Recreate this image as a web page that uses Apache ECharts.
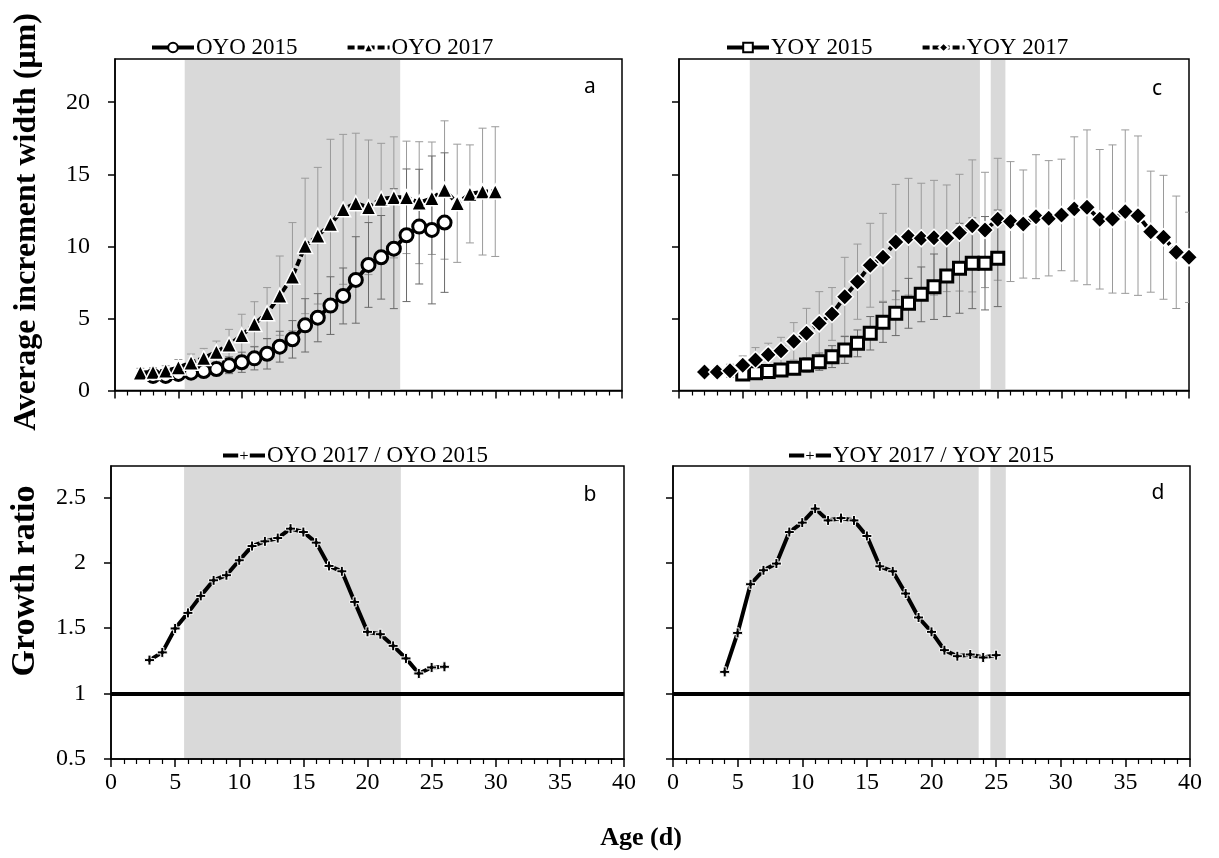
<!DOCTYPE html>
<html>
<head>
<meta charset="utf-8">
<script src="https://cdn.jsdelivr.net/npm/echarts@6/dist/echarts.min.js"></script>
<style>
  html, body { margin: 0; padding: 0; background: #fff; }
  #chart { width: 1219px; height: 858px; }
</style>
</head>
<body>
<div id="chart"></div>
<script>
// age (d) of each point
const ageOyo2015 = [3,4,5,6,7,8,9,10,11,12,13,14,15,16,17,18,19,20,21,22,23,24,25,26];
const ageOyo2017 = [2,3,4,5,6,7,8,9,10,11,12,13,14,15,16,17,18,19,20,21,22,23,24,25,26,27,28,29,30];
const ageYoy2015 = [5,6,7,8,9,10,11,12,13,14,15,16,17,18,19,20,21,22,23,24,25];
const ageYoy2017 = [2,3,4,5,6,7,8,9,10,11,12,13,14,15,16,17,18,19,20,21,22,23,24,25,26,27,28,29,30,31,32,33,34,35,36,37,38,39,40];
const ageRatioOyo = [3,4,5,6,7,8,9,10,11,12,13,14,15,16,17,18,19,20,21,22,23,24,25,26];
const ageRatioYoy = [4,5,6,7,8,9,10,11,12,13,14,15,16,17,18,19,20,21,22,23,24,25];

// average increment width (um) and SD
const oyo2015 = [1.01,1.01,1.15,1.24,1.35,1.49,1.75,1.96,2.23,2.55,3.04,3.55,4.52,5.05,5.89,6.56,7.67,8.71,9.24,9.84,10.77,11.37,11.14,11.65];
const oyo2015Sd = [0.2,0.25,0.3,0.35,0.4,0.46,0.58,0.7,0.8,1.06,1.07,1.3,1.85,1.67,2.0,1.94,3.0,2.94,2.9,4.16,4.6,3.98,5.13,4.84];
const oyo2017 = [1.24,1.28,1.37,1.6,1.93,2.25,2.67,3.18,3.83,4.61,5.36,6.58,7.9,10.03,10.74,11.55,12.57,12.99,12.71,13.29,13.4,13.4,13.03,13.34,13.91,12.99,13.64,13.8,13.8];
const oyo2017Sd = [0.3,0.3,0.35,0.55,0.6,0.67,0.76,1.06,1.46,1.55,1.78,2.75,3.75,4.7,4.74,5.88,5.2,4.86,4.67,3.86,4.2,3.9,4.23,3.9,4.8,4.1,3.4,4.4,4.5];
const yoy2015 = [1.14,1.24,1.31,1.42,1.54,1.77,2.0,2.35,2.81,3.27,3.97,4.73,5.36,6.05,6.67,7.2,7.95,8.48,8.83,8.83,9.17];
const yoy2015Sd = [0.2,0.25,0.3,0.4,0.45,0.5,0.6,0.76,0.93,0.93,1.16,1.39,1.55,1.73,1.9,2.27,2.82,3.12,3.15,3.24,3.35];
const yoy2017 = [1.28,1.28,1.37,1.75,2.12,2.49,2.76,3.41,3.97,4.66,5.31,6.51,7.55,8.69,9.24,10.3,10.67,10.56,10.6,10.56,10.95,11.42,11.14,11.88,11.72,11.55,12.06,11.95,12.18,12.6,12.71,11.88,11.9,12.41,12.13,11.02,10.63,9.59,9.24];
const yoy2017Sd = [0.3,0.35,0.45,0.65,0.86,0.79,0.93,1.3,1.73,2.2,1.83,2.73,2.61,2.91,3.05,4.0,4.05,3.82,3.98,3.7,4.05,4.58,4.0,4.23,4.16,3.75,4.3,4.0,3.87,5.0,5.37,4.84,5.14,5.67,5.53,4.2,4.3,3.9,3.13];

// growth ratio 2017 / 2015
const ratioOyo = [1.256,1.315,1.498,1.617,1.747,1.866,1.905,2.019,2.128,2.164,2.189,2.261,2.235,2.154,1.976,1.935,1.701,1.472,1.454,1.365,1.269,1.154,1.2,1.205];
const ratioYoy = [1.166,1.464,1.836,1.943,1.994,2.235,2.307,2.414,2.324,2.342,2.324,2.205,1.973,1.935,1.765,1.582,1.472,1.332,1.286,1.299,1.276,1.294];

// shaded age ranges
const bandsA = [[5.5, 22.5]];
const bandsB = [[5.7, 22.6]];
const bandsC = [[5.55, 23.6], [24.45, 25.6]];
const bandsD = [[5.9, 23.65], [24.55, 25.75]];

const widthTicks = [0, 5, 10, 15, 20];
const ratioTicks = [0.5, 1, 1.5, 2, 2.5];

const serif = '"Liberation Serif", "Times New Roman", serif';
const plusPath = 'path://M3.5,0H6.5V3.5H10V6.5H6.5V10H3.5V6.5H0V3.5H3.5Z';

const chart = echarts.init(document.getElementById('chart'));

function pairs(xs, ys) { return xs.map((x, i) => [x, ys[i]]); }
function bars(xs, ys, sd) { return xs.map((x, i) => [x, ys[i] - sd[i], ys[i] + sd[i]]); }

// grey shading behind the curves
function bandSeries(idx, bands) {
  return {
    type: 'custom', xAxisIndex: idx, yAxisIndex: idx, z: 1, silent: true,
    data: bands,
    encode: { x: [0, 1] },
    renderItem: function (params, api) {
      const cs = params.coordSys;
      const a = api.coord([api.value(0), 0])[0];
      const b = api.coord([api.value(1), 0])[0];
      return { type: 'rect', shape: { x: a, y: cs.y + 1, width: b - a, height: cs.height - 2 }, style: { fill: '#d9d9d9' } };
    }
  };
}

// mean +- SD whiskers
function errSeries(idx, data, color) {
  return {
    type: 'custom', xAxisIndex: idx, yAxisIndex: idx, z: 2, silent: true, clip: true,
    data: data,
    encode: { x: 0, y: [1, 2] },
    renderItem: function (params, api) {
      const top = api.coord([api.value(0), api.value(2)]);
      const bot = api.coord([api.value(0), api.value(1)]);
      const st = { stroke: color, lineWidth: 1 };
      return {
        type: 'group', children: [
          { type: 'line', shape: { x1: top[0], y1: top[1], x2: bot[0], y2: bot[1] }, style: st },
          { type: 'line', shape: { x1: top[0] - 4, y1: top[1], x2: top[0] + 4, y2: top[1] }, style: st },
          { type: 'line', shape: { x1: bot[0] - 4, y1: bot[1], x2: bot[0] + 4, y2: bot[1] }, style: st }
        ]
      };
    }
  };
}

function lineSeries(idx, name, data, sym, size, fill, border, bw, dashed) {
  return {
    type: 'line', name: name, xAxisIndex: idx, yAxisIndex: idx, z: 3,
    data: data, symbol: sym, symbolSize: size, showSymbol: true, showAllSymbol: true,
    itemStyle: { color: fill, borderColor: border, borderWidth: bw },
    lineStyle: { color: '#000', width: 4, type: dashed ? [7, 3] : 'solid' },
    emphasis: { disabled: true }, animation: false
  };
}

function xAx(idx, showLabel) {
  return {
    type: 'value', gridIndex: idx, min: 0, max: 40, interval: 5,
    axisLine: { show: true, onZero: false, lineStyle: { color: '#000', width: 1.5 } },
    axisTick: { show: true, length: 8, lineStyle: { color: '#000', width: 1.5 } },
    minorTick: { show: true, splitNumber: 5, length: 5, lineStyle: { color: '#000', width: 1.2 } },
    axisLabel: { show: showLabel, margin: 12, fontFamily: serif, fontSize: 24, color: '#000' },
    splitLine: { show: false }, minorSplitLine: { show: false }
  };
}

function yAx(idx, min, max, vals, showLabel) {
  return {
    type: 'value', gridIndex: idx, min: min, max: max,
    axisLine: { show: true, onZero: false, lineStyle: { color: '#000', width: 1.5 } },
    axisTick: { show: true, length: 7, customValues: vals, lineStyle: { color: '#000', width: 1.5 } },
    axisLabel: { show: showLabel, customValues: vals, margin: 25, fontFamily: serif, fontSize: 24, color: '#000' },
    splitLine: { show: false }
  };
}

// reference line at ratio = 1
const oneLine = {
  silent: true, symbol: 'none', label: { show: false },
  lineStyle: { color: '#000', width: 4, type: 'solid' },
  data: [{ yAxis: 1 }]
};

const gridStyle = { show: true, borderColor: '#000', borderWidth: 1.5, containLabel: false };
const legendBase = {
  itemWidth: 42, itemHeight: 12, itemGap: 48,
  lineStyle: { width: 4 },
  textStyle: { fontFamily: serif, fontSize: 23, color: '#000', padding: [0, 0, 0, -3] },
  selectedMode: false
};

const option = {
  animation: false,
  grid: [
    Object.assign({ left: 115, top: 59, width: 507, height: 331.5 }, gridStyle),
    Object.assign({ left: 111, top: 466, width: 513, height: 293 }, gridStyle),
    Object.assign({ left: 679, top: 59, width: 510, height: 331.5 }, gridStyle),
    Object.assign({ left: 673, top: 466, width: 517, height: 293 }, gridStyle)
  ],
  xAxis: [xAx(0, false), xAx(1, true), xAx(2, false), xAx(3, true)],
  yAxis: [
    yAx(0, 0, 23, widthTicks, true),
    yAx(1, 0.5, 2.74, ratioTicks, true),
    yAx(2, 0, 23, widthTicks, false),
    yAx(3, 0.5, 2.74, ratioTicks, false)
  ],
  legend: [
    Object.assign({ data: ['OYO 2015', 'OYO 2017'], left: 145, top: 31 }, legendBase),
    Object.assign({ data: ['OYO 2017 / OYO 2015'], left: 216, top: 439 }, legendBase),
    Object.assign({ data: ['YOY 2015', 'YOY 2017'], left: 720, top: 31 }, legendBase),
    Object.assign({ data: ['YOY 2017 / YOY 2015'], left: 782, top: 439 }, legendBase)
  ],
  graphic: [
    { type: 'text', x: 590, y: 87, style: { text: 'a', font: '21px "Noto Sans"', fill: '#000', align: 'center', verticalAlign: 'middle' } },
    { type: 'text', x: 590, y: 495, style: { text: 'b', font: '21px "Noto Sans"', fill: '#000', align: 'center', verticalAlign: 'middle' } },
    { type: 'text', x: 1157, y: 89, style: { text: 'c', font: '21px "Noto Sans"', fill: '#000', align: 'center', verticalAlign: 'middle' } },
    { type: 'text', x: 1158, y: 493, style: { text: 'd', font: '21px "Noto Sans"', fill: '#000', align: 'center', verticalAlign: 'middle' } },
    { type: 'text', x: 27, y: 222, rotation: Math.PI / 2, style: { text: 'Average increment width (μm)', font: 'bold 32px "Liberation Serif"', fill: '#000', align: 'center', verticalAlign: 'middle' } },
    { type: 'text', x: 25, y: 581, rotation: Math.PI / 2, style: { text: 'Growth ratio', font: 'bold 34px "Liberation Serif"', fill: '#000', align: 'center', verticalAlign: 'middle' } },
    { type: 'text', x: 641, y: 838, style: { text: 'Age (d)', font: 'bold 26px "Liberation Serif"', fill: '#000', align: 'center', verticalAlign: 'middle' } }
  ],
  series: [
    bandSeries(0, bandsA),
    bandSeries(1, bandsB),
    bandSeries(2, bandsC),
    bandSeries(3, bandsD),
    errSeries(0, bars(ageOyo2017, oyo2017, oyo2017Sd), '#9a9a9a'),
    errSeries(0, bars(ageOyo2015, oyo2015, oyo2015Sd), '#6a6a6a'),
    errSeries(2, bars(ageYoy2017, yoy2017, yoy2017Sd), '#9a9a9a'),
    errSeries(2, bars(ageYoy2015, yoy2015, yoy2015Sd), '#6a6a6a'),
    lineSeries(0, 'OYO 2015', pairs(ageOyo2015, oyo2015), 'circle', 13, '#fff', '#000', 3, false),
    lineSeries(0, 'OYO 2017', pairs(ageOyo2017, oyo2017), 'triangle', 15, '#000', '#fff', 1.5, true),
    lineSeries(2, 'YOY 2015', pairs(ageYoy2015, yoy2015), 'rect', 12, '#fff', '#000', 3, false),
    lineSeries(2, 'YOY 2017', pairs(ageYoy2017, yoy2017), 'diamond', 17, '#000', '#fff', 1.5, true),
    Object.assign(lineSeries(1, 'OYO 2017 / OYO 2015', pairs(ageRatioOyo, ratioOyo), plusPath, 10, '#000', '#fff', 1, false), { markLine: oneLine }),
    Object.assign(lineSeries(3, 'YOY 2017 / YOY 2015', pairs(ageRatioYoy, ratioYoy), plusPath, 10, '#000', '#fff', 1, false), { markLine: oneLine })
  ]
};

chart.setOption(option);
</script>
</body>
</html>
